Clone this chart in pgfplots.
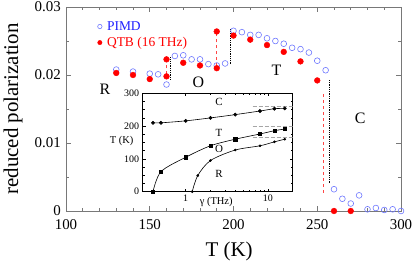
\documentclass[border=0pt]{standalone}
\usepackage{fontspec}
\setmainfont{Liberation Serif}
\usepackage{pgfplots}
\pgfplotsset{compat=1.18}
\definecolor{pblue}{RGB}{110,120,255}
\definecolor{tblue}{RGB}{30,30,255}
\definecolor{qred}{RGB}{255,0,0}
\definecolor{dred}{RGB}{255,70,70}
\definecolor{axgray}{RGB}{120,120,120}
\begin{document}
\begin{tikzpicture}
\begin{axis}[
  scale only axis, width=335bp, height=204bp,
  at={(0,0)}, anchor=south west, clip=false,
  xmin=100, xmax=300, ymin=0, ymax=0.03,
  xtick={100,150,200,250,300}, minor x tick num=4,
  ytick={0,0.01,0.02,0.03}, yticklabels={0,0.01,0.02,0.03}, minor y tick num=1,
  scaled y ticks=false,
  tick align=inside, major tick length=5bp, minor tick length=3bp,
  axis line style={axgray, line width=0.8bp}, every tick/.style={axgray, line width=0.6bp},
  tick label style={font=\fontsize{15}{15}\selectfont, black, inner sep=1bp},
  xticklabel style={yshift=-7bp},
  yticklabel style={xshift=-4bp},
  /pgf/number format/assume math mode=true,
  xlabel={T (K)}, ylabel={reduced polarization},
  label style={font=\fontsize{21}{21}\selectfont, inner sep=1bp},
  xlabel style={at={(axis description cs:0.487,-0.2)}, anchor=center},
  ylabel style={at={(axis description cs:-0.158,0.5)}, anchor=center},
  legend style={draw=none, fill=none, at={(rel axis cs:0.085,0.95)}, anchor=north west,
    font=\fontsize{13.5}{14}\selectfont, row sep=1.5bp, nodes={inner xsep=5bp}},
  legend cell align=left,
  legend image post style={mark size=2.2bp},
]
\addplot[only marks, mark=o, mark size=2.9bp, pblue, line width=0.6bp] coordinates {
(130,0.0208) (140,0.0205) (150,0.0202) (155,0.0201) (160,0.0186) (165,0.0228) (170,0.0229)
(175,0.0223) (180,0.0223) (185,0.0216) (190,0.0214) (195,0.0217) (200,0.0265) (205,0.0263)
(210,0.0259) (215,0.0259) (220,0.0254) (225,0.0250) (230,0.0246) (235,0.0240) (240,0.0238)
(245,0.0233) (250,0.0221) (255,0.0207) (260,0.0032) (265,0.0018) (270,0.0011) (275,0.0023)
(280,0.00025) (285,0.00044) (290,0.00015) (295,0.00025) (300,0)
};
\addlegendentry{\textcolor{tblue}{PIMD}}
\addplot[only marks, mark=*, mark size=2.9bp, qred] coordinates {
(130,0.0203) (140,0.0200) (150,0.0194) (160,0.0223) (160,0.0198) (170,0.0218) (180,0.0214)
(190,0.0264) (190,0.0210) (200,0.0258) (210,0.0252) (220,0.0244) (230,0.0234) (240,0.0220)
(250,0.0192) (260,0) (270,0)
};
\addlegendentry{\textcolor{qred}{QTB (16 THz)}}
\addplot[dred, dashed, line width=0.9bp, forget plot] coordinates {(160,0.0201) (160,0.0220)};
\addplot[black, densely dotted, line width=0.8bp, forget plot] coordinates {(162.5,0.0193) (162.5,0.0226)};
\addplot[dred, dashed, line width=0.9bp, forget plot] coordinates {(190,0.0213) (190,0.0261)};
\addplot[black, densely dotted, line width=0.8bp, forget plot] coordinates {(197.9,0.0216) (197.9,0.0267)};
\addplot[dred, dashed, line width=0.9bp, forget plot] coordinates {(253.6,0.0027) (253.6,0.0173)};
\addplot[black, densely dotted, line width=0.8bp, forget plot] coordinates {(257.2,0.0041) (257.2,0.0193)};
\node[font=\fontsize{16}{16}\selectfont] at (axis cs:123.3,0.0179) {R};
\node[font=\fontsize{16}{16}\selectfont] at (axis cs:179.1,0.0190) {O};
\node[font=\fontsize{16}{16}\selectfont] at (axis cs:225.6,0.0207) {T};
\node[font=\fontsize{16}{16}\selectfont] at (axis cs:275.7,0.0137) {C};
\end{axis}
\begin{axis}[
  scale only axis, width=150bp, height=98.4bp,
  at={(76.7bp,19.3bp)}, anchor=south west,
  axis background/.style={fill=white},
  xmode=log, xmin=0.3, xmax=20, ymin=0, ymax=300,
  xtick={1,10}, xticklabels={1,10},
  ytick={0,100,200,300}, minor y tick num=3,
  tick align=inside, major tick length=3bp, minor tick length=2bp,
  axis line style={black, line width=0.6bp}, every tick/.style={black, line width=0.5bp},
  tick label style={font=\fontsize{10}{10}\selectfont},
  /pgf/number format/assume math mode=true,
  xlabel={γ (THz)}, ylabel={T (K)},
  label style={font=\fontsize{10.5}{10.5}\selectfont},
  xlabel style={at={(axis description cs:0.49,-0.10)}, anchor=center},
  ylabel style={at={(axis description cs:-0.14,0.515)}, anchor=center, rotate=-90},
]
\addplot[black, smooth, mark=*, mark size=1.6bp, line width=0.6bp] coordinates {
(0.4,210) (0.5,210) (1,216) (2,225) (4,235) (8,246) (12,253) (16,254)};
\addplot[black, smooth, mark=square*, mark size=1.6bp, line width=0.6bp] coordinates {
(0.4,0) (0.5,61) (1,105) (2,140) (4,160) (8,176) (12,186) (16,191)};
\addplot[black, smooth, mark=*, mark size=1bp, line width=0.6bp] coordinates {
(1.2,0) (1.4,49) (2,95) (4,127) (8,140) (12,152) (16,160)};
\addplot[gray!70, dash pattern=on 4bp off 2bp, line width=0.9bp] coordinates {(6.5,261) (20,261)};
\addplot[gray!70, dash pattern=on 4bp off 2bp, line width=0.9bp] coordinates {(6.5,199) (20,199)};
\addplot[gray!70, dash pattern=on 4bp off 2bp, line width=0.9bp] coordinates {(6.5,165) (20,165)};
\node[font=\fontsize{11}{11}\selectfont] at (axis cs:2.54,273) {C};
\node[font=\fontsize{11}{11}\selectfont] at (axis cs:2.54,179) {T};
\node[font=\fontsize{11}{11}\selectfont] at (axis cs:2.54,130) {O};
\node[font=\fontsize{11}{11}\selectfont] at (axis cs:2.54,54) {R};
\end{axis}
\pgfresetboundingbox
\path (-66bp,-51bp) rectangle (350bp,211bp);
\end{tikzpicture}
\end{document}
